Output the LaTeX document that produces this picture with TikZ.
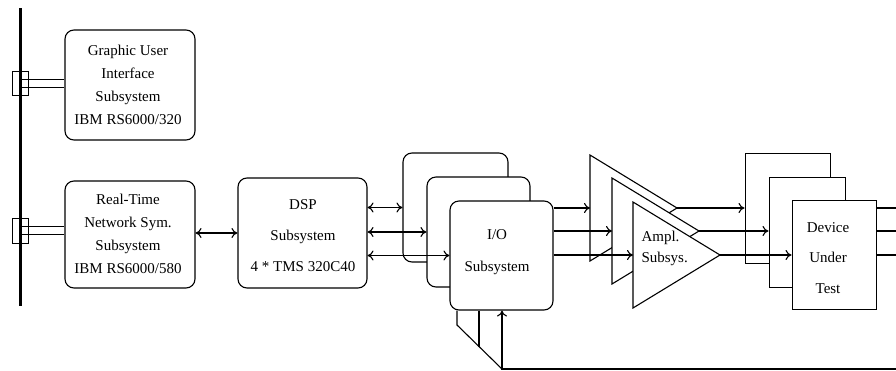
\documentclass[tikz,border=0pt]{standalone}
\usepackage{fontspec}
\setmainfont{Liberation Serif}
\usetikzlibrary{arrows.meta,calc}
\begin{document}
\begin{tikzpicture}[x=1pt,y=-1pt,
  line width=1.1pt,
  >={To[length=6pt,width=10pt]},
  rbox/.style={draw,rounded corners=9pt,fill=white,inner sep=0pt},
  sbox/.style={draw,fill=white,inner sep=0pt,line width=1pt},
  txt/.style={align=center,inner sep=0pt},
  tri/.style={draw,fill=white,line join=miter},
  conn/.style={draw,line width=0.8pt},
  bus/.style={line width=3pt}]
\useasboundingbox (0,0) rectangle (896,370);
\fill[white] (0,0) rectangle (896,370);

% ---- bus and connectors
\node[conn,minimum width=16pt,minimum height=24pt,inner sep=0pt] (c1) at (20,83) {};
\node[conn,minimum width=16pt,minimum height=25pt,inner sep=0pt] (c2) at (20,230.5) {};
\coordinate (busT) at (20,8);
\coordinate (busB) at (20,306);

% ---- left boxes
\node[rbox,minimum width=130pt,minimum height=110pt] (gui) at (130,85) {};
\node[rbox,minimum width=130pt,minimum height=107pt] (rt) at (130,234.5) {};
\node[txt,font=\fontsize{15}{23}\selectfont] (guit) at (128,85)
  {Graphic User\\Interface\\Subsystem\\IBM RS6000/320};
\node[txt,font=\fontsize{15}{23}\selectfont] (rtt) at (128,234)
  {Real-Time\\Network Sym.\\Subsystem\\IBM RS6000/580};

\draw[line width=0.8pt] ($(c1.center)+(0,-4)$) -- (gui.west |- {$(c1.center)+(0,-4)$});
\draw[line width=0.8pt] ($(c1.center)+(0,4)$) -- (gui.west |- {$(c1.center)+(0,4)$});
\draw[line width=0.8pt] ($(c2.center)+(0,-4)$) -- (rt.west |- {$(c2.center)+(0,-4)$});
\draw[line width=0.8pt] ($(c2.center)+(0,4)$) -- (rt.west |- {$(c2.center)+(0,4)$});
\draw[bus] (busT) -- (busB);

% ---- DSP
\node[rbox,minimum width=129pt,minimum height=110pt] (dsp) at (302.5,233) {};
\node[txt,font=\fontsize{15}{31}\selectfont] (dspt) at (303,236)
  {DSP\\Subsystem\\4 * TMS 320C40};

% ---- I/O boxes
\node[rbox,minimum width=105pt,minimum height=109pt] (iob) at (455.5,207.5) {};
\node[rbox,minimum width=103pt,minimum height=110pt] (iom) at (478.5,232) {};
\node[rbox,minimum width=103pt,minimum height=109pt] (iof) at (501.5,255.5) {};
\node[txt,font=\fontsize{15}{32}\selectfont] (iot) at (497,252)
  {I/O\\Subsystem};

% ---- lines below I/O
\coordinate (fb) at (502,369);
\coordinate (fbR) at (900,369);
\coordinate (k1) at (457,325);
\coordinate (k2) at (479,347);
\draw (iof.south -| k1) -- (k1) -- (fb);
\draw (iof.south -| k2) -- (k2);

% ---- amplifier triangles
\coordinate (tbL) at (590,208); \coordinate (tbA) at (677,208);
\coordinate (tmL) at (612,231); \coordinate (tmA) at (699,231);
\coordinate (tfL) at (633,255); \coordinate (tfA) at (720,255);
\draw[tri] (590,155) -- (tbA) -- (590,261) -- cycle;
\draw[tri] (612,178) -- (tmA) -- (612,284) -- cycle;
\draw[tri] (633,202) -- (tfA) -- (633,308) -- cycle;
\node[txt,align=left,anchor=west,font=\fontsize{15}{21}\selectfont] (ampt) at (641,248)
  {Ampl.\\Subsys.};

% ---- DUT boxes
\node[sbox,minimum width=85pt,minimum height=110pt] (dutb) at (787.5,208) {};
\node[sbox,minimum width=76pt,minimum height=110pt] (dutm) at (807,232) {};
\node[sbox,minimum width=84pt,minimum height=109pt] (dutf) at (834,254.5) {};
\node[txt,font=\fontsize{15}{30.5}\selectfont] (dutt) at (828,258)
  {Device\\Under\\Test};

% ---- connectors
\draw[<->] (rt.east |- dsp.west) -- (dsp.west);
\draw[<->] (dsp.east |- iob.west) -- (iob.west);
\draw[<->] (dsp.east |- iom.west) -- (iom.west);
\draw[<->] (dsp.east |- iof.west) -- (iof.west);

\draw[->] (iof.east |- tbL) -- (tbL);
\draw[->] (iof.east |- tmL) -- (tmL);
\draw[->] (iof.east |- tfL) -- (tfL);

\draw[->] (tbA) -- (dutb.west |- tbA);
\draw[->] (tmA) -- (dutm.west |- tmA);
\draw[->] (tfA) -- (dutf.west |- tfA);

\coordinate (outR) at (900,0);
\draw (dutf.east |- tbA) -- (outR |- tbA);
\draw (dutf.east |- tmA) -- (outR |- tmA);
\draw (dutf.east |- tfA) -- (outR |- tfA);

\draw[->] (fbR) -- (fb) -- (fb |- iof.south);
\end{tikzpicture}
\end{document}
